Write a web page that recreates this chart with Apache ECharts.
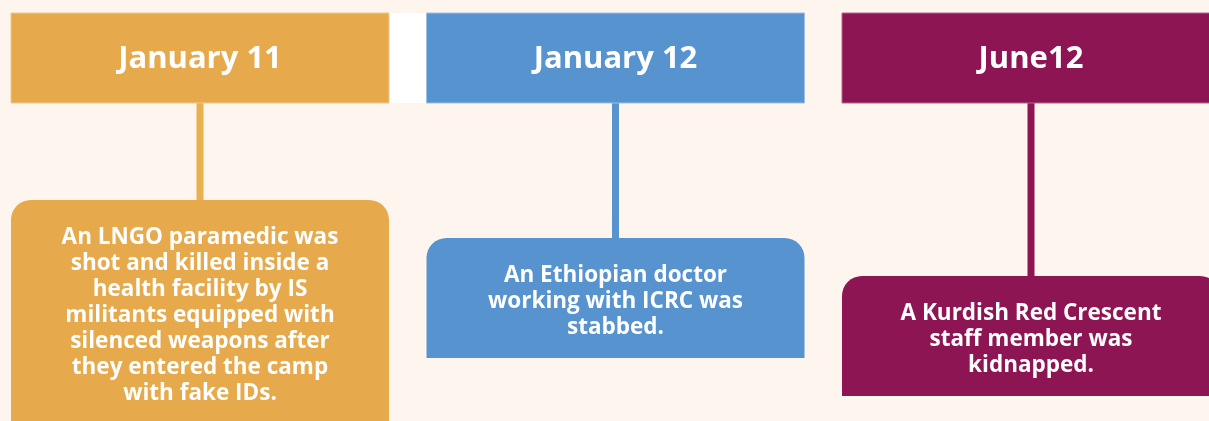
<!DOCTYPE html>
<html>
<head>
<meta charset="utf-8">
<script src="https://cdn.jsdelivr.net/npm/echarts@6/dist/echarts.min.js"></script>
<style>
  html, body { margin: 0; padding: 0; background: #FDF5EE; }
  #chart { width: 1209px; height: 421px; }
</style>
</head>
<body>
<div id="chart"></div>
<script>
// Timeline events
const dates = ['January 11', 'January 12', 'June12'];
const descriptions = [
  'An LNGO paramedic was\nshot and killed inside a\nhealth facility by IS\nmilitants equipped with\nsilenced weapons after\nthey entered the camp\nwith fake IDs.',
  'An Ethiopian doctor\nworking with ICRC was\nstabbed.',
  'A Kurdish Red Crescent\nstaff member was\nkidnapped.'
];
const eventIndex = [0, 1, 2];

const palette = ['#E6A94B', '#5693CF', '#8E1553'];
const linePalette = ['#EAAF4F', '#5693CF', '#8E1553'];
const strokePalette = ['#EFC88C', '#9DBFE3', '#B7668E'];

const chart = echarts.init(document.getElementById('chart'), null, { renderer: 'canvas' });

const LINE_H = 26;

chart.setOption({
  backgroundColor: '#FDF5EE',
  animation: false,
  grid: { left: 0, right: 0, top: 0, bottom: 0 },
  xAxis: { type: 'value', min: 0, max: 1209, show: false },
  yAxis: { type: 'value', min: 0, max: 421, inverse: true, show: false },
  series: [{
    type: 'custom',
    clip: false,
    data: eventIndex.map(i => [i]),
    renderItem: function (params, api) {
      const i = api.value(0);
      const left = 11 + i * 415.5;
      const width = 378;
      const cx = left + width / 2;
      const headTop = 13, headBottom = 103;
      const boxTop = 200 + i * 38;
      const nLines = descriptions[i].split('\n').length;
      const boxBottom = boxTop + 42 + nLines * LINE_H;
      const p0 = api.coord([left, headTop]);
      const p1 = api.coord([left + width, headBottom]);
      const b0 = api.coord([left, boxTop]);
      const b1 = api.coord([left + width, boxBottom]);
      const c = api.coord([cx, 0]);
      const children = [];
      if (i === 0) {
        const g0 = api.coord([left + width, headTop]);
        const g1 = api.coord([left + 416, headBottom]);
        children.push({
          type: 'rect',
          shape: { x: g0[0], y: g0[1], width: g1[0] - g0[0], height: g1[1] - g0[1] },
          style: { fill: '#FFFFFF' }
        });
      }
      children.push({
        type: 'rect',
        shape: { x: c[0] - 3.5, y: p1[1], width: 7, height: b0[1] - p1[1] + 2 },
        style: { fill: linePalette[i] }
      });
      children.push({
        type: 'rect',
        shape: { x: p0[0], y: p0[1], width: p1[0] - p0[0], height: p1[1] - p0[1] },
        style: { fill: palette[i], stroke: strokePalette[i], lineWidth: 1 }
      });
      children.push({
        type: 'text',
        x: c[0], y: (p0[1] + p1[1]) / 2 + 1,
        style: {
          text: dates[i],
          fill: '#FFFFFF',
          font: '700 31px "Open Sans", sans-serif',
          align: 'center', verticalAlign: 'middle'
        }
      });
      children.push({
        type: 'rect',
        shape: { x: b0[0], y: b0[1], width: b1[0] - b0[0], height: b1[1] - b0[1], r: [20, 20, 0, 0] },
        style: { fill: palette[i] }
      });
      children.push({
        type: 'text',
        x: c[0], y: b0[1] + 25,
        style: {
          text: descriptions[i],
          fill: '#FFFFFF',
          font: '700 22.5px "Open Sans", sans-serif',
          lineHeight: LINE_H,
          align: 'center', verticalAlign: 'top'
        }
      });
      return { type: 'group', children: children };
    }
  }]
});
</script>
</body>
</html>
